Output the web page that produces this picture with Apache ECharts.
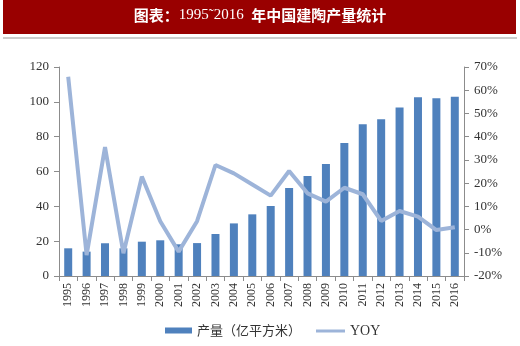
<!DOCTYPE html>
<html><head><meta charset="utf-8">
<script src="https://cdn.jsdelivr.net/npm/echarts@6/dist/echarts.min.js"></script>
<style>html,body{margin:0;padding:0;background:#fff}#c{width:520px;height:346px}</style>
</head><body><div id="c"></div>
<script>
const years = ['1995','1996','1997','1998','1999','2000','2001','2002','2003','2004','2005','2006','2007','2008','2009','2010','2011','2012','2013','2014','2015','2016'];
const output = [15.9,14,18.8,15.9,19.7,20.5,18.2,18.9,24.1,30.2,35.4,40.2,50.5,57.4,64.3,76.3,87.2,90,96.8,102.6,102,102.9];
const yoy = [65.8,-11,35.5,-10.2,22.8,3.6,-9.5,3.6,27.8,24.2,19.4,14.6,25.2,15.6,12,18,15.2,3.7,8,5.6,-0.2,1];
const leftTicks = [0,20,40,60,80,100,120];
const rightTicks = [-20,-10,0,10,20,30,40,50,60,70];

const chart = echarts.init(document.getElementById('c'));
const serif = '"Liberation Serif","DejaVu Serif",serif';
const axisColor = '#8c8c8c';
chart.setOption({
  animation:false,
  backgroundColor:'#fff',
  graphic:[
    {type:'rect',shape:{x:3,y:0,width:513,height:34},style:{fill:'#990000'}},
    {type:'line',shape:{x1:3,y1:38,x2:517,y2:38},style:{stroke:'#999',lineWidth:1}},
    {type:'text',left:'center',top:8,style:{rich:{
      b:{fontFamily:'"Noto Sans CJK SC"',fontWeight:'bold',fontSize:15,fill:'#fff'},
      n:{fontFamily:serif,fontSize:15,fill:'#fff'}},
      text:'{b|图表：}{n|1995˜2016  }{b|年中国建陶产量统计}'}}
  ],
  grid:{left:59,right:56,top:67,bottom:70},
  legend:[
    {data:[{name:'产量（亿平方米）',icon:'rect'}],left:160,top:319,itemWidth:27,itemHeight:6,itemGap:4,
     textStyle:{fontFamily:'"Noto Sans CJK SC"',fontSize:13,color:'#333'}},
    {data:[{name:'YOY',icon:'rect'}],left:311,top:319,itemWidth:29,itemHeight:3,itemGap:2,
     textStyle:{fontFamily:serif,fontSize:14,color:'#333'}}
  ],
  xAxis:{type:'category',data:years,boundaryGap:true,
    axisLine:{lineStyle:{color:axisColor}},
    axisTick:{show:true,alignWithLabel:false,length:5,lineStyle:{color:axisColor}},
    axisLabel:{rotate:90,interval:0,fontFamily:serif,fontSize:12,color:'#333',margin:7}},
  yAxis:[
    {type:'value',min:0,max:120,interval:20,splitLine:{show:false},
     axisLine:{show:true,lineStyle:{color:axisColor}},
     axisTick:{show:true,length:5,lineStyle:{color:axisColor}},
     axisLabel:{fontFamily:serif,fontSize:13,color:'#333',margin:10}},
    {type:'value',min:-20,max:70,interval:10,splitLine:{show:false},
     axisLine:{show:true,lineStyle:{color:axisColor}},
     axisTick:{show:true,length:5,lineStyle:{color:axisColor}},
     axisLabel:{fontFamily:serif,fontSize:13,color:'#333',margin:10,formatter:v=>v+'%'}}
  ],
  series:[
    {name:'产量（亿平方米）',type:'bar',data:output,barWidth:8,itemStyle:{color:'#4F81BD'}},
    {name:'YOY',type:'line',yAxisIndex:1,data:yoy,showSymbol:false,symbol:'none',
     lineStyle:{color:'#9DB4D9',width:4},itemStyle:{color:'#9DB4D9'}}
  ]
});
</script></body></html>
